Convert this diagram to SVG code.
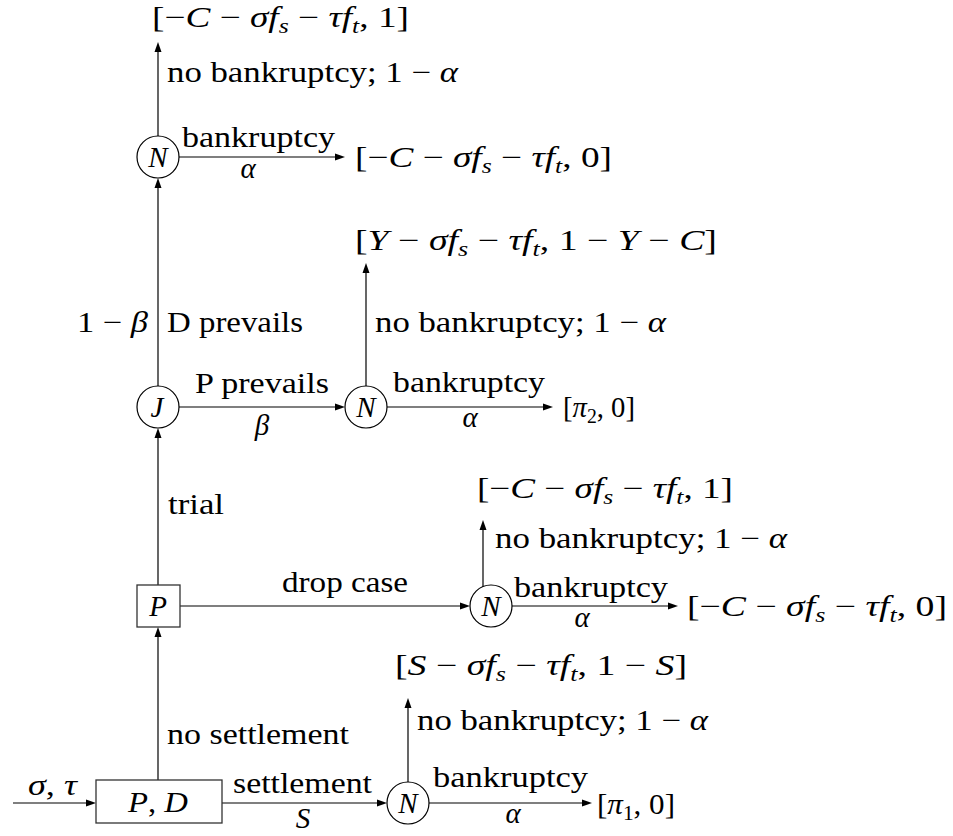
<svg xmlns="http://www.w3.org/2000/svg" width="953" height="836" viewBox="0 0 953 836">
<rect width="953" height="836" fill="#fff"/>

<g id="connectors">
<g stroke="#000" stroke-width="1.2" fill="none">
<line x1="13" y1="803" x2="90" y2="803"/>
<line x1="158" y1="780" x2="158" y2="633"/>
<line x1="222" y1="803" x2="381" y2="803"/>
<line x1="408" y1="782" x2="408" y2="704"/>
<line x1="429" y1="803" x2="586" y2="803"/>
<line x1="158" y1="585" x2="158" y2="434"/>
<line x1="180" y1="606" x2="464" y2="606"/>
<line x1="483" y1="587" x2="483" y2="526"/>
<line x1="512" y1="606" x2="672" y2="606"/>
<line x1="158" y1="386" x2="158" y2="184"/>
<line x1="179" y1="407" x2="339" y2="407"/>
<line x1="366" y1="386" x2="366" y2="269"/>
<line x1="387" y1="407" x2="547" y2="407"/>
<line x1="158" y1="136" x2="158" y2="48"/>
<line x1="179" y1="157" x2="339" y2="157"/>
</g>
<g fill="#000" stroke="none">
<polygon points="86,799.5 96,803 86,806.5"/>
<polygon points="377,799.5 387,803 377,806.5"/>
<polygon points="582,799.5 592,803 582,806.5"/>
<polygon points="460,602.5 470,606 460,609.5"/>
<polygon points="668,602.5 678,606 668,609.5"/>
<polygon points="335,403.5 345,407 335,410.5"/>
<polygon points="543,403.5 553,407 543,410.5"/>
<polygon points="335,153.5 345,157 335,160.5"/>
<polygon points="154.5,637 158,627 161.5,637"/>
<polygon points="404.5,708 408,698 411.5,708"/>
<polygon points="154.5,438 158,428 161.5,438"/>
<polygon points="479.5,530 483,520 486.5,530"/>
<polygon points="154.5,188 158,178 161.5,188"/>
<polygon points="362.5,273 366,263 369.5,273"/>
<polygon points="154.5,52 158,42 161.5,52"/>
</g>
</g>

<g id="edge-labels" fill="#000">
<text font-family="Liberation Serif" font-size="29" x="28" y="795" textLength="49" lengthAdjust="spacingAndGlyphs"><tspan font-style="italic">σ</tspan>, <tspan font-style="italic">τ</tspan></text>
<text font-family="Liberation Serif" font-size="29" x="167" y="744" textLength="182" lengthAdjust="spacingAndGlyphs">no settlement</text>
<text font-family="Liberation Serif" font-size="29" x="233" y="793" textLength="139" lengthAdjust="spacingAndGlyphs">settlement</text>
<text font-family="Liberation Serif" font-size="29" font-style="italic" text-anchor="middle" x="303" y="828">S</text>
<text font-family="Liberation Serif" font-size="29" x="417" y="730" textLength="291" lengthAdjust="spacingAndGlyphs">no bankruptcy; 1 − <tspan font-style="italic">α</tspan></text>
<text font-family="Liberation Serif" font-size="29" x="433" y="787" textLength="155" lengthAdjust="spacingAndGlyphs">bankruptcy</text>
<text font-family="Liberation Serif" font-size="29" font-style="italic" text-anchor="middle" x="513" y="823">α</text>
<text font-family="Liberation Serif" font-size="29" x="168" y="514" textLength="56" lengthAdjust="spacingAndGlyphs">trial</text>
<text font-family="Liberation Serif" font-size="29" x="282" y="592" textLength="126" lengthAdjust="spacingAndGlyphs">drop case</text>
<text font-family="Liberation Serif" font-size="29" x="495" y="548" textLength="292" lengthAdjust="spacingAndGlyphs">no bankruptcy; 1 − <tspan font-style="italic">α</tspan></text>
<text font-family="Liberation Serif" font-size="29" x="514" y="597" textLength="154" lengthAdjust="spacingAndGlyphs">bankruptcy</text>
<text font-family="Liberation Serif" font-size="29" font-style="italic" text-anchor="middle" x="582" y="627">α</text>
<text font-family="Liberation Serif" font-size="29" x="77" y="332" textLength="71" lengthAdjust="spacingAndGlyphs">1 − <tspan font-style="italic">β</tspan></text>
<text font-family="Liberation Serif" font-size="29" x="167" y="332" textLength="136" lengthAdjust="spacingAndGlyphs">D prevails</text>
<text font-family="Liberation Serif" font-size="29" x="195" y="393" textLength="134" lengthAdjust="spacingAndGlyphs">P prevails</text>
<text font-family="Liberation Serif" font-size="29" font-style="italic" text-anchor="middle" x="262" y="435">β</text>
<text font-family="Liberation Serif" font-size="29" x="375" y="332" textLength="291" lengthAdjust="spacingAndGlyphs">no bankruptcy; 1 − <tspan font-style="italic">α</tspan></text>
<text font-family="Liberation Serif" font-size="29" x="393" y="392" textLength="152" lengthAdjust="spacingAndGlyphs">bankruptcy</text>
<text font-family="Liberation Serif" font-size="29" font-style="italic" text-anchor="middle" x="470" y="427">α</text>
<text font-family="Liberation Serif" font-size="29" x="167" y="82" textLength="291" lengthAdjust="spacingAndGlyphs">no bankruptcy; 1 − <tspan font-style="italic">α</tspan></text>
<text font-family="Liberation Serif" font-size="29" x="182" y="147" textLength="153" lengthAdjust="spacingAndGlyphs">bankruptcy</text>
<text font-family="Liberation Serif" font-size="29" font-style="italic" text-anchor="middle" x="248" y="178">α</text>
</g>

<g id="node-PD">
<rect x="96" y="780" width="126" height="43" fill="#fff" stroke="#333" stroke-width="1.3"/>
<text font-family="Liberation Serif" font-size="29" x="128" y="812" textLength="60" lengthAdjust="spacingAndGlyphs"><tspan font-style="italic">P</tspan>, <tspan font-style="italic">D</tspan></text>
</g>
<g id="node-N1">
<circle cx="408" cy="803" r="21" fill="#fff" stroke="#000" stroke-width="1.2"/>
<text font-family="Liberation Serif" font-size="29" font-style="italic" text-anchor="middle" x="408" y="813">N</text>
</g>
<g id="node-P">
<rect x="137" y="585" width="43" height="42" fill="#fff" stroke="#333" stroke-width="1.3"/>
<text font-family="Liberation Serif" font-size="29" font-style="italic" text-anchor="middle" x="158" y="616">P</text>
</g>
<g id="node-N2">
<circle cx="491" cy="606" r="21" fill="#fff" stroke="#000" stroke-width="1.2"/>
<text font-family="Liberation Serif" font-size="29" font-style="italic" text-anchor="middle" x="491" y="616">N</text>
</g>
<g id="node-J">
<circle cx="158" cy="407" r="21" fill="#fff" stroke="#000" stroke-width="1.2"/>
<text font-family="Liberation Serif" font-size="29" font-style="italic" text-anchor="middle" x="157" y="417">J</text>
</g>
<g id="node-N3">
<circle cx="366" cy="407" r="21" fill="#fff" stroke="#000" stroke-width="1.2"/>
<text font-family="Liberation Serif" font-size="29" font-style="italic" text-anchor="middle" x="366" y="417">N</text>
</g>
<g id="node-N4">
<circle cx="158" cy="157" r="21" fill="#fff" stroke="#000" stroke-width="1.2"/>
<text font-family="Liberation Serif" font-size="29" font-style="italic" text-anchor="middle" x="158" y="167">N</text>
</g>

<g id="payoffs" fill="#000">
<text id="payoff-1" font-family="Liberation Serif" font-size="29" x="597" y="814" textLength="78" lengthAdjust="spacingAndGlyphs">[<tspan font-style="italic">π</tspan><tspan font-size="20" dy="6">1</tspan><tspan dy="-6">, 0]</tspan></text>
<text id="payoff-2" font-family="Liberation Serif" font-size="29" x="395" y="675" textLength="292" lengthAdjust="spacingAndGlyphs">[<tspan font-style="italic">S</tspan> − <tspan font-style="italic">σf</tspan><tspan font-size="20" font-style="italic" dy="6">s</tspan><tspan dy="-6"> − </tspan><tspan font-style="italic">τf</tspan><tspan font-size="20" font-style="italic" dy="6">t</tspan><tspan dy="-6">, 1 − </tspan><tspan font-style="italic">S</tspan>]</text>
<text id="payoff-3" font-family="Liberation Serif" font-size="29" x="687" y="616" textLength="260" lengthAdjust="spacingAndGlyphs">[−<tspan font-style="italic">C</tspan> − <tspan font-style="italic">σf</tspan><tspan font-size="20" font-style="italic" dy="6">s</tspan><tspan dy="-6"> − </tspan><tspan font-style="italic">τf</tspan><tspan font-size="20" font-style="italic" dy="6">t</tspan><tspan dy="-6">, 0]</tspan></text>
<text id="payoff-4" font-family="Liberation Serif" font-size="29" x="477" y="498" textLength="256" lengthAdjust="spacingAndGlyphs">[−<tspan font-style="italic">C</tspan> − <tspan font-style="italic">σf</tspan><tspan font-size="20" font-style="italic" dy="6">s</tspan><tspan dy="-6"> − </tspan><tspan font-style="italic">τf</tspan><tspan font-size="20" font-style="italic" dy="6">t</tspan><tspan dy="-6">, 1]</tspan></text>
<text id="payoff-5" font-family="Liberation Serif" font-size="29" x="563" y="417" textLength="72" lengthAdjust="spacingAndGlyphs">[<tspan font-style="italic">π</tspan><tspan font-size="20" dy="6">2</tspan><tspan dy="-6">, 0]</tspan></text>
<text id="payoff-6" font-family="Liberation Serif" font-size="29" x="355" y="250" textLength="362" lengthAdjust="spacingAndGlyphs">[<tspan font-style="italic">Y</tspan> − <tspan font-style="italic">σf</tspan><tspan font-size="20" font-style="italic" dy="6">s</tspan><tspan dy="-6"> − </tspan><tspan font-style="italic">τf</tspan><tspan font-size="20" font-style="italic" dy="6">t</tspan><tspan dy="-6">, 1 − </tspan><tspan font-style="italic">Y</tspan> − <tspan font-style="italic">C</tspan>]</text>
<text id="payoff-7" font-family="Liberation Serif" font-size="29" x="355" y="167" textLength="257" lengthAdjust="spacingAndGlyphs">[−<tspan font-style="italic">C</tspan> − <tspan font-style="italic">σf</tspan><tspan font-size="20" font-style="italic" dy="6">s</tspan><tspan dy="-6"> − </tspan><tspan font-style="italic">τf</tspan><tspan font-size="20" font-style="italic" dy="6">t</tspan><tspan dy="-6">, 0]</tspan></text>
<text id="payoff-8" font-family="Liberation Serif" font-size="29" x="152" y="27" textLength="257" lengthAdjust="spacingAndGlyphs">[−<tspan font-style="italic">C</tspan> − <tspan font-style="italic">σf</tspan><tspan font-size="20" font-style="italic" dy="6">s</tspan><tspan dy="-6"> − </tspan><tspan font-style="italic">τf</tspan><tspan font-size="20" font-style="italic" dy="6">t</tspan><tspan dy="-6">, 1]</tspan></text>
</g>
</svg>
